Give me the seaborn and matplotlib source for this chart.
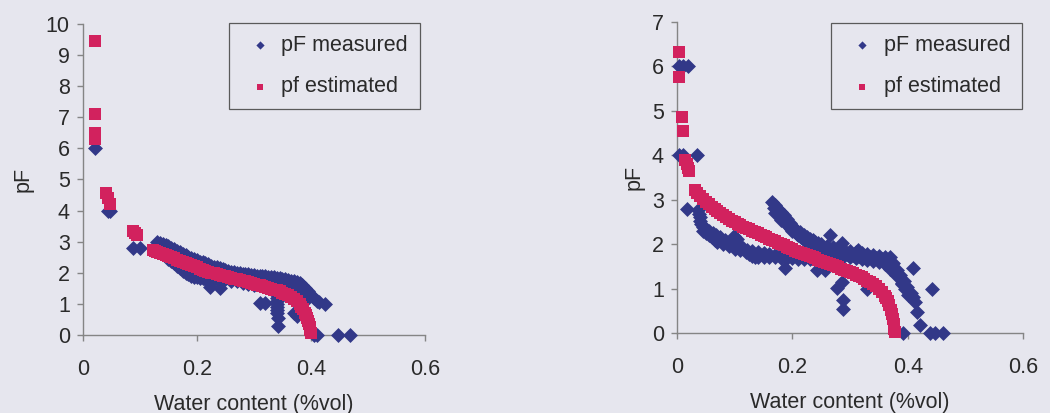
import matplotlib
matplotlib.use("Agg")
import matplotlib.pyplot as plt
import seaborn as sns

# ---------------- data ----------------
x_ticks = [0, 0.2, 0.4, 0.6]
x_tick_labels = ["0", "0.2", "0.4", "0.6"]
left_y_ticks = list(range(0, 11))
right_y_ticks = list(range(0, 8))

# Left panel - pF measured
left_meas_x = [0.021, 0.044, 0.047, 0.088, 0.1,
               # upper edge of the band
               0.13, 0.135, 0.14, 0.145, 0.15, 0.155, 0.16, 0.165, 0.17, 0.175, 0.18, 0.185,
               0.19, 0.195, 0.2, 0.205, 0.21, 0.215, 0.22, 0.225, 0.23, 0.235, 0.24, 0.245,
               0.25, 0.255, 0.26, 0.265, 0.27, 0.275, 0.28, 0.285, 0.29, 0.295, 0.3, 0.305,
               0.31, 0.315, 0.32, 0.325, 0.33, 0.335, 0.34, 0.345, 0.35, 0.355, 0.36, 0.365,
               0.37, 0.375, 0.38, 0.385, 0.39, 0.395, 0.4, 0.405, 0.41, 0.415, 0.424,
               # lower edge of the flat part
               0.25, 0.26, 0.27, 0.28, 0.29, 0.3, 0.31, 0.32, 0.33, 0.34, 0.35, 0.36, 0.37, 0.38,
               0.255, 0.265, 0.275, 0.285, 0.295, 0.305, 0.315, 0.325, 0.335, 0.345, 0.355,
               0.365, 0.375, 0.385, 0.39, 0.395,
               # lower branch below the estimate
               0.15, 0.155, 0.16, 0.165, 0.17, 0.175, 0.18, 0.185, 0.19, 0.195, 0.2, 0.205,
               0.21, 0.215, 0.22, 0.225, 0.23, 0.235, 0.24, 0.245,
               0.165, 0.175, 0.185, 0.195, 0.205, 0.215,
               # isolated points
               0.223, 0.24, 0.31, 0.32, 0.37, 0.375,
               0.34, 0.34, 0.34, 0.34, 0.34, 0.34, 0.341, 0.341, 0.341, 0.342, 0.342,
               0.405, 0.41, 0.447, 0.468]
left_meas_y = [6.0, 4.0, 4.0, 2.8, 2.8,
               3.0, 2.96, 2.92, 2.88, 2.85, 2.8, 2.75, 2.7, 2.66, 2.61, 2.56, 2.51,
               2.47, 2.43, 2.4, 2.36, 2.33, 2.3, 2.27, 2.23, 2.2, 2.17, 2.14, 2.11,
               2.08, 2.05, 2.03, 2.01, 2.0, 1.98, 1.97, 1.96, 1.95, 1.94, 1.93, 1.91,
               1.9, 1.89, 1.88, 1.87, 1.86, 1.85, 1.84, 1.82, 1.8, 1.79, 1.77, 1.75,
               1.73, 1.7, 1.67, 1.6, 1.5, 1.4, 1.3, 1.2, 1.1, 1.05, 1.0,
               1.8, 1.75, 1.72, 1.68, 1.65, 1.62, 1.6, 1.58, 1.56, 1.55, 1.55, 1.55, 1.5, 1.45,
               1.9, 1.86, 1.84, 1.82, 1.8, 1.78, 1.76, 1.74, 1.72, 1.7, 1.68,
               1.65, 1.62, 1.55, 1.35, 1.2,
               2.45, 2.38, 2.3, 2.22, 2.15, 2.07, 2.0, 1.95, 1.9, 1.87, 1.85, 1.83,
               1.82, 1.81, 1.8, 1.8, 1.8, 1.79, 1.78, 1.78,
               2.4, 2.25, 2.1, 2.0, 1.95, 1.9,
               1.54, 1.5, 1.03, 1.03, 0.7, 0.62,
               1.5, 1.4, 1.3, 1.2, 1.1, 1.0, 0.9, 0.8, 0.7, 0.55, 0.3,
               0.0, 0.0, 0.0, 0.0]

# Left panel - pf estimated
left_est_x = [0.021, 0.021, 0.021, 0.021, 0.021, 0.04, 0.044, 0.047, 0.087, 0.091, 0.094,
              0.123, 0.127, 0.13, 0.135, 0.14, 0.145, 0.15, 0.155, 0.16, 0.165, 0.17, 0.175,
              0.18, 0.185, 0.19, 0.195, 0.2, 0.205, 0.21, 0.215, 0.22, 0.225, 0.23, 0.235,
              0.24, 0.245, 0.25, 0.255, 0.26, 0.265, 0.27, 0.275, 0.28, 0.285, 0.29, 0.295,
              0.3, 0.305, 0.31, 0.315, 0.32, 0.325, 0.33, 0.335, 0.34, 0.345, 0.35, 0.355,
              0.36, 0.365, 0.37, 0.375, 0.38, 0.383, 0.386, 0.389, 0.391, 0.393, 0.395,
              0.397, 0.398, 0.399, 0.4]
left_est_y = [9.45, 7.1, 6.5, 6.4, 6.3, 4.55, 4.4, 4.2, 3.35, 3.28, 3.2,
              2.73, 2.7, 2.67, 2.63, 2.6, 2.56, 2.53, 2.5, 2.46, 2.42, 2.39, 2.35,
              2.32, 2.28, 2.25, 2.21, 2.17, 2.13, 2.1, 2.06, 2.03, 2.0, 1.98, 1.95,
              1.93, 1.9, 1.88, 1.86, 1.84, 1.81, 1.79, 1.76, 1.74, 1.72, 1.7, 1.67,
              1.65, 1.62, 1.6, 1.57, 1.55, 1.52, 1.49, 1.46, 1.43, 1.4, 1.36, 1.32,
              1.28, 1.23, 1.16, 1.08, 0.98, 0.9, 0.82, 0.72, 0.63, 0.54, 0.45,
              0.35, 0.25, 0.15, 0.05]

# Right panel - pF measured
right_meas_x = [0.004, 0.01, 0.019, 0.004, 0.01, 0.035, 0.017,
                # lower band
                0.037, 0.038, 0.039, 0.04, 0.042, 0.045, 0.05, 0.055, 0.062, 0.068, 0.075,
                0.083, 0.092, 0.1, 0.105, 0.11, 0.115, 0.121, 0.13, 0.14, 0.15, 0.16, 0.17,
                0.179, 0.19, 0.2, 0.21, 0.22, 0.23, 0.24, 0.25,
                0.045, 0.05, 0.055, 0.06, 0.065, 0.07, 0.08, 0.09, 0.1, 0.11, 0.12, 0.125,
                0.13, 0.135, 0.14, 0.15, 0.16, 0.17, 0.18, 0.19, 0.2, 0.21, 0.22, 0.23,
                0.098, 0.104,
                # upper band, three rows
                0.165, 0.17, 0.175, 0.18, 0.185, 0.19, 0.196, 0.2, 0.205, 0.213, 0.22, 0.225,
                0.23, 0.235, 0.24, 0.245, 0.25, 0.26, 0.27, 0.28, 0.29, 0.3, 0.31, 0.32,
                0.33, 0.34, 0.35, 0.36, 0.369, 0.375, 0.381, 0.387, 0.393, 0.399, 0.405,
                0.41, 0.413,
                0.168, 0.173, 0.178, 0.183, 0.188, 0.193, 0.198, 0.203, 0.208, 0.215, 0.222,
                0.23, 0.238, 0.246, 0.255, 0.265, 0.275, 0.285, 0.295, 0.305, 0.315, 0.325,
                0.335, 0.345, 0.355, 0.365, 0.372, 0.378, 0.384, 0.39, 0.396, 0.402,
                0.17, 0.18, 0.19, 0.2, 0.21, 0.22, 0.23, 0.24, 0.25, 0.26, 0.27, 0.28, 0.29,
                0.3, 0.31, 0.32, 0.33, 0.34, 0.35, 0.36, 0.37, 0.38, 0.39, 0.4,
                # isolated points
                0.187, 0.243, 0.257, 0.265, 0.286, 0.314, 0.409, 0.442, 0.277, 0.286, 0.288,
                0.288, 0.329, 0.416, 0.421, 0.392, 0.439, 0.447, 0.461]
right_meas_y = [6.0, 6.0, 6.0, 4.0, 4.0, 4.0, 2.8,
                2.77, 2.68, 2.6, 2.52, 2.45, 2.38, 2.33, 2.29, 2.25, 2.2, 2.15,
                2.1, 2.05, 2.02, 1.98, 1.95, 1.91, 1.87, 1.85, 1.82, 1.8, 1.78, 1.75,
                1.73, 1.72, 1.72, 1.72, 1.72, 1.71, 1.7, 1.7,
                2.3, 2.25, 2.2, 2.15, 2.1, 2.05, 2.0, 1.95, 1.9, 1.86, 1.82, 1.78,
                1.74, 1.72, 1.7, 1.7, 1.71, 1.7, 1.68, 1.68, 1.68, 1.67, 1.67, 1.66,
                2.18, 2.12,
                2.95, 2.88, 2.8, 2.72, 2.65, 2.56, 2.47, 2.4, 2.35, 2.28, 2.2, 2.16,
                2.12, 2.09, 2.05, 2.02, 2.0, 1.96, 1.93, 1.9, 1.87, 1.84, 1.82, 1.8,
                1.78, 1.76, 1.73, 1.72, 1.7, 1.58, 1.42, 1.3, 1.16, 1.04, 0.9,
                0.8, 0.7,
                2.82, 2.74, 2.66, 2.58, 2.5, 2.42, 2.35, 2.29, 2.23, 2.16, 2.1,
                2.04, 1.99, 1.95, 1.91, 1.87, 1.83, 1.8, 1.78, 1.75, 1.73, 1.71,
                1.7, 1.68, 1.66, 1.62, 1.55, 1.42, 1.28, 1.12, 0.98, 0.85,
                2.7, 2.55, 2.42, 2.3, 2.2, 2.1, 2.02, 1.96, 1.9, 1.85, 1.8, 1.77, 1.73,
                1.7, 1.68, 1.66, 1.64, 1.62, 1.6, 1.55, 1.45, 1.3, 1.1, 0.85,
                1.46, 1.42, 1.42, 2.2, 2.02, 1.87, 1.46, 0.99, 1.01, 1.15, 0.74,
                0.54, 0.99, 0.47, 0.18, 0.0, 0.0, 0.0, 0.0]

# Right panel - pf estimated
right_est_x = [0.004, 0.004, 0.009, 0.011, 0.014, 0.017, 0.019, 0.021,
               0.031, 0.035, 0.04, 0.045, 0.05, 0.055, 0.06, 0.065, 0.07, 0.075, 0.08, 0.085,
               0.09, 0.095, 0.1, 0.105, 0.11, 0.115, 0.12, 0.125, 0.13, 0.135, 0.14, 0.145,
               0.15, 0.155, 0.16, 0.165, 0.17, 0.175, 0.18, 0.185, 0.19, 0.195, 0.2, 0.205,
               0.21, 0.215, 0.22, 0.225, 0.23, 0.235, 0.24, 0.245, 0.25, 0.255, 0.26, 0.265,
               0.27, 0.275, 0.28, 0.285, 0.29, 0.295, 0.3, 0.305, 0.31, 0.315, 0.32, 0.325,
               0.33, 0.335, 0.34, 0.345, 0.35, 0.355, 0.36, 0.363, 0.365, 0.368, 0.371, 0.373,
               0.375, 0.376, 0.377, 0.378]
right_est_y = [6.33, 5.77, 4.86, 4.55, 3.9, 3.8, 3.72, 3.65,
               3.22, 3.15, 3.08, 3.01, 2.95, 2.9, 2.84, 2.79, 2.74, 2.69, 2.65, 2.61,
               2.57, 2.53, 2.5, 2.46, 2.43, 2.39, 2.36, 2.33, 2.3, 2.27, 2.24, 2.21,
               2.18, 2.15, 2.12, 2.09, 2.06, 2.03, 2.0, 1.97, 1.94, 1.91, 1.88, 1.85,
               1.83, 1.8, 1.78, 1.75, 1.73, 1.7, 1.68, 1.65, 1.63, 1.6, 1.58, 1.55,
               1.53, 1.5, 1.48, 1.45, 1.42, 1.4, 1.37, 1.34, 1.31, 1.28, 1.25, 1.21,
               1.18, 1.14, 1.1, 1.05, 0.99, 0.92, 0.84, 0.78, 0.73, 0.63, 0.52, 0.42,
               0.31, 0.2, 0.1, 0.02]

meas_label = "pF measured"
est_label = "pf estimated"
x_label = "Water content (%vol)"
y_label = "pF"

# ---------------- style ----------------
sns.set_style("ticks")
plt.rcParams["font.family"] = ["Liberation Sans", "DejaVu Sans"]

BG = "#e6e6ee"
BLUE = "#323888"
PINK = "#d2225e"
AXC = "#858585"
TXT = "#2a2a2a"
FS = 15.5

fig = plt.figure(figsize=(10.5, 4.13), dpi=100, facecolor=BG)
ax_l = fig.add_axes([0.079, 0.189, 0.3257, 0.753])
ax_r = fig.add_axes([0.6448, 0.1937, 0.3295, 0.753])

panels = [
    (ax_l, left_meas_x, left_meas_y, left_est_x, left_est_y, 10, left_y_ticks, (0.985, 1.003), 8.5),
    (ax_r, right_meas_x, right_meas_y, right_est_x, right_est_y, 7, right_y_ticks, (0.997, 0.997), 5.0),
]

for ax, mx, my, ex, ey, ymax, yticks, anchor, ylpad in panels:
    ax.set_facecolor(BG)
    sns.scatterplot(x=mx, y=my, ax=ax, marker="D", s=58, color=BLUE, linewidth=0,
                    label=meas_label, clip_on=False, zorder=3)
    sns.scatterplot(x=ex, y=ey, ax=ax, marker="s", s=66, color=PINK, linewidth=0,
                    label=est_label, clip_on=False, zorder=4)
    ax.set_xlim(0, 0.6)
    ax.set_ylim(0, ymax)
    ax.set_xticks(x_ticks)
    ax.set_xticklabels(x_tick_labels)
    ax.set_yticks(yticks)
    ax.set_yticklabels([str(v) for v in yticks])
    for s in ["top", "right"]:
        ax.spines[s].set_visible(False)
    for s in ["left", "bottom"]:
        ax.spines[s].set_color(AXC)
        ax.spines[s].set_linewidth(1.0)
    ax.tick_params(axis="both", direction="out", length=4.5, width=1.0, color=AXC,
                   labelsize=FS, labelcolor=TXT)
    ax.tick_params(axis="x", pad=12.5)
    ax.tick_params(axis="y", pad=5)
    ax.set_xlabel(x_label, fontsize=FS, color=TXT, labelpad=10.5)
    ax.set_ylabel(y_label, fontsize=FS, color=TXT, labelpad=ylpad)
    leg = ax.legend(loc="upper right", bbox_to_anchor=anchor, frameon=True, fancybox=False,
                    fontsize=FS, markerscale=0.55, handlelength=1.8, handletextpad=0.1,
                    labelspacing=0.95, borderpad=0.55, borderaxespad=0.0)
    frame = leg.get_frame()
    frame.set_facecolor(BG)
    frame.set_edgecolor("#5a5a5a")
    frame.set_linewidth(0.9)
    frame.set_alpha(1.0)
    for t in leg.get_texts():
        t.set_color(TXT)

fig.savefig("out.png", dpi=100, facecolor=BG)
